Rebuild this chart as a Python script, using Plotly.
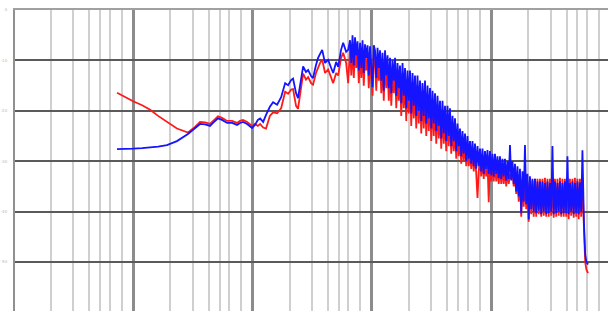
import plotly.graph_objects as go

# ---- data (frequency in Hz, level in dB) ----
low_freq_hz = [7.33, 8.55, 10.0, 11.9, 13.9, 16.2, 19.2, 23.3, 28.8, 33.0, 36.4, 40.1, 44.1, 47.7,
               51.5, 55.6, 61.3, 67.5, 74.3, 78.7, 83.4, 90.2, 99.3, 105, 111, 116, 123, 130, 140,
               149, 161, 174, 188, 199, 211, 219, 232, 241, 251, 266, 281, 293, 310, 322, 341, 355,
               369, 384, 406, 431, 457, 475, 503, 523, 553, 576, 610, 634]
low_blue_db = [-27.6, -27.6, -27.5, -27.4, -27.3, -27.1, -26.8, -26.0, -24.6, -23.4, -22.6, -22.7,
               -23.0, -22.2, -21.5, -21.8, -22.4, -22.4, -22.8, -22.4, -22.2, -22.6, -23.4, -22.8,
               -21.8, -21.5, -22.2, -20.8, -19.2, -18.3, -18.8, -17.3, -14.5, -14.9, -13.9, -13.6,
               -16.5, -17.5, -14.9, -11.2, -12.3, -11.9, -13.1, -13.5, -10.9, -9.5, -8.7, -7.9,
               -10.5, -9.9, -11.5, -12.5, -10.3, -11.3, -7.9, -6.5, -8.3, -7.9]
low_red_db = [-16.4, -17.3, -18.1, -18.9, -19.8, -21.0, -22.2, -23.5, -24.3, -23.2, -22.2, -22.3,
              -22.6, -21.8, -21.1, -21.4, -22.0, -22.0, -22.4, -22.0, -21.8, -22.2, -23.0, -22.6,
              -23.0, -22.6, -23.3, -23.5, -21.0, -20.3, -20.5, -19.5, -16.2, -16.6, -15.8, -15.7,
              -19.0, -19.6, -17.0, -12.6, -13.8, -13.3, -14.5, -14.8, -12.5, -11.3, -10.5, -9.8,
              -12.5, -11.8, -13.5, -14.5, -12.5, -13.0, -9.5, -8.5, -10.5, -14.5]

high_freq_hz = [
    658, 674, 690, 707, 724, 742, 760, 779, 798, 817, 837, 857, 878, 899, 922, 944,
    967, 991, 1015, 1040, 1065, 1091, 1118, 1145, 1173, 1202, 1231, 1261, 1292, 1324, 1356, 1389,
    1423, 1458, 1493, 1529, 1567, 1605, 1644, 1684, 1725, 1767, 1811, 1855, 1900, 1946, 1994, 2043,
    2092, 2143, 2196, 2250, 2304, 2360, 2418, 2477, 2538, 2600, 2663, 2728, 2795, 2863, 2933, 3005,
    3078, 3153, 3230, 3309, 3389, 3472, 3557, 3644, 3732, 3823, 3917, 4013, 4110, 4210, 4313, 4418,
    4526, 4636, 4750, 4866, 4985, 5107, 5231, 5359, 5490, 5624, 5761, 5902, 6046, 6194, 6344, 6499,
    6658, 6821, 6987, 7158, 7332, 7511, 7694, 7882, 8074, 8271, 8473, 8680, 8892, 9109, 9331, 9559,
    9792, 10031, 10276, 10527, 10784, 11047, 11317, 11593, 11876, 12166, 12463, 12767, 13078, 13397,
    13724, 14059, 14402, 14753, 15114, 15483, 15860, 16247, 16644, 17050, 17466, 17892, 18329, 18776,
    19235, 19704, 20185, 20678, 21182, 21699, 22229, 22772, 23327, 23897, 24479, 25076, 25689, 26316,
    26958, 27616, 28290, 28980, 29687, 30411, 31154, 31914, 32693, 33491, 34308, 35145, 36003, 36881,
    37782, 38704, 39649, 40616, 41608, 42623, 43663, 44728, 45820, 46938, 48084, 49257, 50460, 51691,
    52952, 54244, 55568, 56924, 58314,
    60000, 61500, 63000, 65000]
high_blue_db = [
    -6.0, -10.5, -5.0, -11.0, -5.4, -9.0, -6.2, -12.0,
    -6.5, -11.5, -6.0, -12.5, -6.8, -9.5, -7.0, -13.0,
    -7.2, -12.0, -15.3, -7.0, -8.0, -13.5, -7.5, -11.5,
    -8.0, -14.0, -8.5, -16.0, -8.0, -13.0, -9.0, -15.5,
    -9.5, -16.5, -10.0, -14.0, -9.5, -17.0, -10.5, -15.5,
    -11.0, -18.5, -10.5, -17.0, -11.5, -19.5, -12.0, -18.0,
    -12.0, -20.5, -12.5, -19.0, -13.0, -21.0, -13.0, -20.0,
    -14.0, -22.0, -14.5, -21.0, -14.0, -22.5, -15.0, -21.5,
    -15.5, -23.5, -16.0, -22.5, -16.5, -24.0, -17.0, -23.0,
    -18.0, -25.5, -18.0, -24.5, -19.0, -26.0, -19.0, -25.0,
    -19.5, -27.0, -21.0, -26.0, -21.5, -28.0, -22.5, -27.0,
    -23.5, -29.0, -24.0, -28.5, -24.5, -30.0, -25.0, -29.5,
    -26.0, -30.5, -26.0, -31.0, -26.5, -31.5, -27.0, -31.0,
    -27.5, -32.0, -27.5, -32.5, -28.0, -31.5, -27.8, -32.5,
    -28.0, -32.8, -28.5, -33.0, -28.5, -32.5, -29.0, -33.3,
    -29.0, -33.5, -29.5, -33.0, -29.5, -33.8, -30.0, -33.5,
    -26.8, -33.8, -30.0, -34.5, -30.5, -36.0, -31.0, -37.0,
    -31.5, -40.3, -32.0, -38.0, -26.8, -38.5, -32.5, -41.5,
    -33.0, -39.5, -33.5, -40.0, -33.5, -40.3, -34.0, -39.8,
    -34.0, -40.5, -34.0, -40.0, -34.3, -40.5, -34.0, -40.3,
    -34.3, -40.0, -27.0, -40.5, -34.0, -40.3, -34.3, -40.0,
    -34.0, -40.5, -34.3, -40.3, -34.0, -40.3, -29.0, -40.5,
    -34.3, -40.0, -34.0, -40.5, -34.3, -40.3, -34.0, -40.5,
    -34.2, -40.0, -27.8,
    -42.0, -48.5, -50.0, -50.5]
high_red_db = [
    -7.5, -13.0, -7.0, -13.5, -7.5, -11.5, -8.0, -14.5,
    -8.5, -13.5, -8.0, -15.0, -9.0, -12.0, -9.0, -15.5,
    -9.5, -14.5, -17.0, -9.0, -10.0, -16.0, -9.5, -14.0,
    -10.0, -16.5, -10.5, -18.0, -10.0, -15.5, -11.0, -18.0,
    -11.5, -19.0, -12.0, -16.5, -11.5, -19.5, -12.5, -18.0,
    -13.0, -21.0, -12.5, -19.5, -13.5, -22.0, -14.0, -20.5,
    -14.0, -23.0, -14.5, -21.5, -15.0, -23.5, -15.0, -22.5,
    -16.0, -24.5, -16.5, -23.5, -16.0, -25.0, -17.0, -24.0,
    -17.5, -26.0, -18.0, -25.0, -18.5, -26.5, -19.0, -25.5,
    -20.0, -27.5, -20.0, -26.5, -21.0, -28.0, -21.0, -27.0,
    -21.5, -28.5, -23.0, -28.0, -23.5, -29.5, -24.5, -29.0,
    -25.5, -30.5, -26.0, -30.0, -26.5, -31.0, -27.0, -31.0,
    -28.0, -31.5, -28.0, -32.0, -28.5, -32.5, -37.3, -32.0,
    -29.5, -33.0, -29.5, -33.5, -30.0, -33.0, -30.0, -38.1,
    -30.0, -34.0, -30.5, -34.0, -30.5, -34.0, -31.0, -34.5,
    -31.0, -34.5, -31.5, -34.5, -31.5, -35.0, -32.0, -34.5,
    -32.5, -33.5, -32.0, -35.0, -32.5, -36.5, -33.0, -38.0,
    -33.0, -41.0, -33.5, -39.0, -33.5, -39.5, -34.0, -42.0,
    -33.5, -40.5, -33.8, -41.0, -33.5, -41.0, -33.5, -40.5,
    -33.5, -41.0, -33.5, -40.8, -33.3, -41.0, -33.5, -41.0,
    -33.5, -40.8, -33.3, -41.2, -33.5, -41.0, -33.5, -40.8,
    -33.3, -41.0, -33.5, -41.0, -33.5, -41.0, -33.3, -41.5,
    -33.5, -40.8, -33.5, -41.2, -33.3, -41.0, -33.5, -41.5,
    -33.5, -41.0, -34.0,
    -43.0, -50.0, -51.5, -52.2]

major_ticks = [10, 100, 1000, 10000]
minor_multipliers = [2.05, 3.15, 4.3, 5.3, 6.35, 8.0]
decades = [1, 10, 100, 1000, 10000]
y_ticks = [0, -10, -20, -30, -40, -50]
y_tick_text = ["0", "-10", "-20", "-30", "-40", "-50"]

freq = low_freq_hz + high_freq_hz
blue = low_blue_db + high_blue_db
red = low_red_db + high_red_db

minor_vals = [d * m for d in decades for m in minor_multipliers]

fig = go.Figure()
fig.add_trace(go.Scatter(x=freq, y=red, mode="lines",
                         line=dict(color="#ff1a1a", width=1.8), showlegend=False))
fig.add_trace(go.Scatter(x=freq, y=blue, mode="lines",
                         line=dict(color="#1414ff", width=1.8), showlegend=False))

fig.update_layout(
    width=608, height=311,
    margin=dict(l=15, r=0, t=10, b=0, autoexpand=False),
    paper_bgcolor="white", plot_bgcolor="white",
    xaxis=dict(type="log", range=[0.01, 4.98], tickmode="array", tickvals=major_ticks,
               showticklabels=False, ticks="", showgrid=True, gridcolor="#8c8c8c", gridwidth=3,
               minor=dict(tickmode="array", tickvals=minor_vals, showgrid=True,
                          gridcolor="#cfcfcf", gridwidth=2, ticks=""),
               showline=True, mirror=True, linecolor="#a0a0a0", linewidth=2, zeroline=False,
               automargin=False),
    yaxis=dict(range=[-59.7, 0], tickmode="array", tickvals=y_ticks, ticktext=y_tick_text,
               showgrid=True, gridcolor="#5a5a5a", gridwidth=1.5, zeroline=False,
               showline=True, linecolor="#909090", linewidth=2, ticks="",
               tickfont=dict(size=4, color="#b8b8b8", family="DejaVu Sans"),
               ticklabelstandoff=5, automargin=False),
)

fig.write_html("out.html", config={"displayModeBar": False},
               post_script="document.body.style.margin='0';")
